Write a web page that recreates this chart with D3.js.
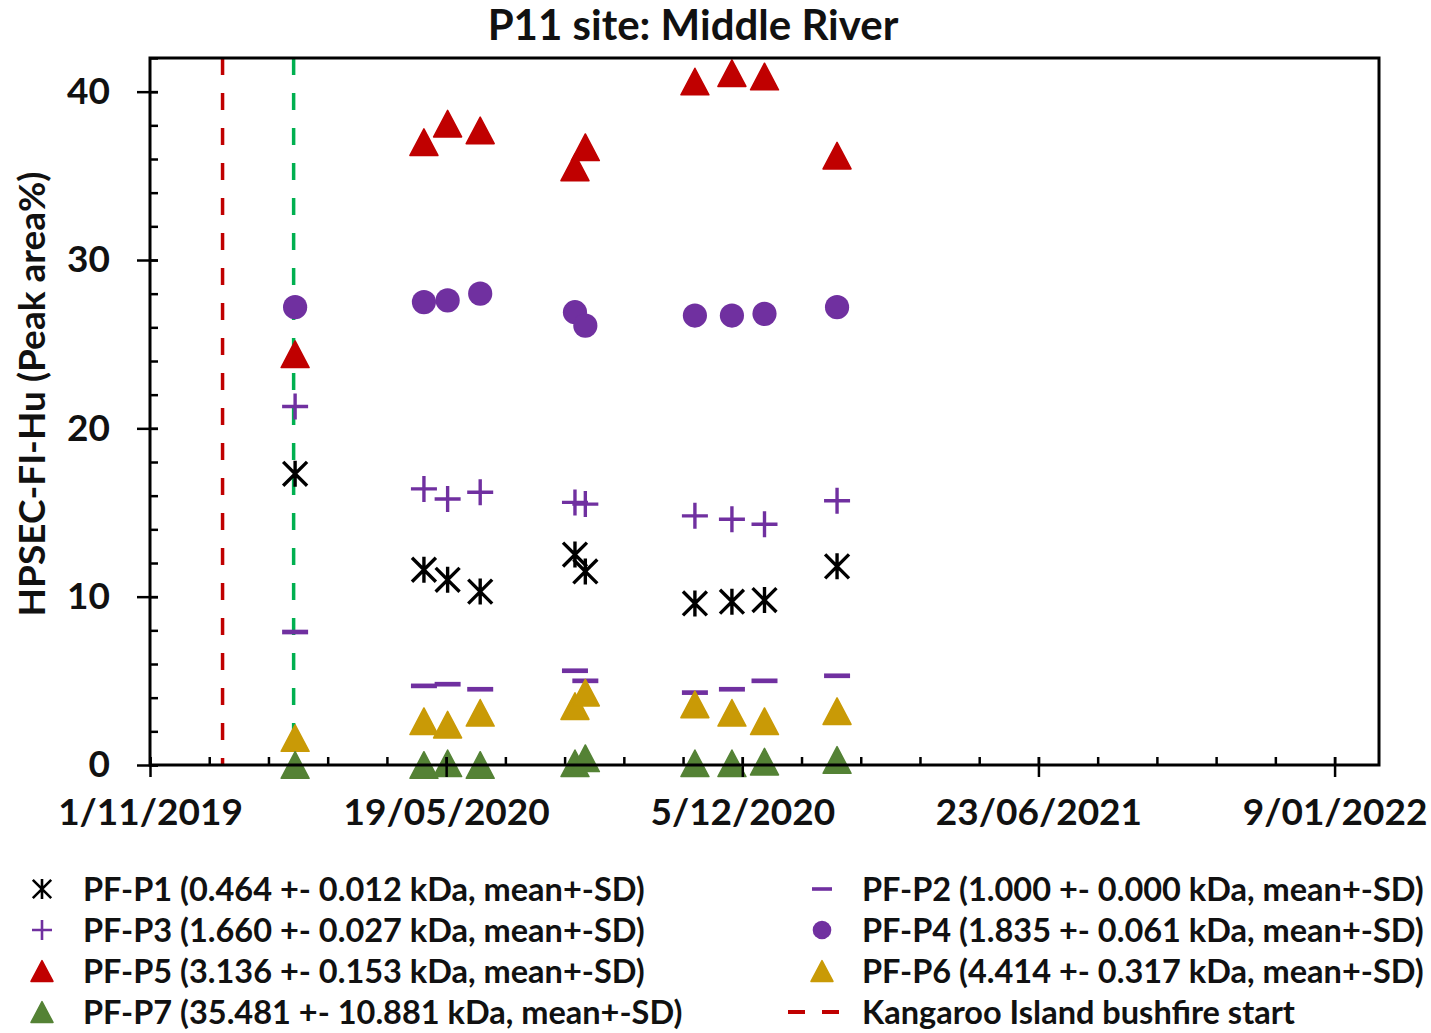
<!DOCTYPE html>
<html>
<head>
<meta charset="utf-8">
<script src="https://cdn.jsdelivr.net/npm/d3@7"></script>
<style>
  html, body { margin: 0; padding: 0; background: #fff; }
  svg text { font-family: Lato, "Noto Sans", sans-serif; font-weight: 700; fill: #111; }
</style>
</head>
<body>
<div id="chart"></div>
<script>
// P11 site: Middle River – HPSEC-Fl-Hu peak areas over time

const SAMPLE_DATES = [
  "2020-02-07", "2020-05-04", "2020-05-20", "2020-06-11", "2020-08-14",
  "2020-08-21", "2020-11-03", "2020-11-28", "2020-12-20", "2021-02-07",
];
const P1 = [17.3, 11.6, 11.0, 10.3, 12.5, 11.5, 9.6, 9.7, 9.8, 11.8];
const P2 = [7.9, 4.7, 4.8, 4.5, 5.6, 5.0, 4.3, 4.5, 5.0, 5.3];
const P3 = [21.3, 16.4, 15.8, 16.2, 15.6, 15.5, 14.8, 14.6, 14.3, 15.7];
const P4 = [27.2, 27.5, 27.6, 28.0, 26.9, 26.1, 26.7, 26.7, 26.8, 27.2];
const P5 = [24.4, 37.0, 38.1, 37.7, 35.5, 36.7, 40.6, 41.1, 40.9, 36.2];
const P6 = [1.6, 2.6, 2.4, 3.1, 3.5, 4.3, 3.6, 3.1, 2.6, 3.2];
const P7 = [0.0, 0.0, 0.1, 0.0, 0.1, 0.4, 0.1, 0.1, 0.2, 0.3];

const BUSHFIRE_DATE = "2019-12-20";
const SAMPLING_START = "2020-02-06";

const X_START = "2019-11-01";
const X_END = "2022-02-08";
const X_MAJOR_DAYS = [0, 200, 400, 600, 800];
const X_MINOR_STEP = 40;
const Y_MAX = 42;
const Y_MAJOR = [0, 10, 20, 30, 40];
const Y_MINOR_STEP = 2;

const SERIES = [
  { key: "P1", values: P1, shape: "star",   color: "#000000", label: "PF-P1 (0.464 +- 0.012 kDa, mean+-SD)" },
  { key: "P2", values: P2, shape: "dash",   color: "#7030A0", label: "PF-P2 (1.000 +- 0.000 kDa, mean+-SD)" },
  { key: "P3", values: P3, shape: "plus",   color: "#7030A0", label: "PF-P3 (1.660 +- 0.027 kDa, mean+-SD)" },
  { key: "P4", values: P4, shape: "circle", color: "#7030A0", label: "PF-P4 (1.835 +- 0.061 kDa, mean+-SD)" },
  { key: "P5", values: P5, shape: "tri",    color: "#C00000", label: "PF-P5 (3.136 +- 0.153 kDa, mean+-SD)" },
  { key: "P6", values: P6, shape: "tri",    color: "#C99A06", label: "PF-P6 (4.414 +- 0.317 kDa, mean+-SD)" },
  { key: "P7", values: P7, shape: "tri",    color: "#548235", label: "PF-P7 (35.481 +- 10.881 kDa, mean+-SD)" },
];

const parse = d3.utcParse("%Y-%m-%d");
const DAY = 86400000;

/* ── Layout ── */
const totalW = 1431, totalH = 1033;
const plot = { left: 150, right: 1379, top: 58, bottom: 765 };

const svg = d3.select("#chart").append("svg")
  .attr("width", totalW).attr("height", totalH);

/* ── Scales ── */
const x0 = parse(X_START);
const x = d3.scaleUtc().domain([x0, parse(X_END)]).range([plot.left, plot.right]);
const y = d3.scaleLinear().domain([0, Y_MAX]).range([plot.bottom, plot.top]);

/* ── Marker shapes ── */
function marker(sel, shape, color, s) {
  // s = nominal marker size in px
  const h = s / 2;
  if (shape === "tri") {
    sel.append("path")
      .attr("d", `M0,${-h * 0.95}L${h},${h * 0.95}L${-h},${h * 0.95}Z`)
      .attr("fill", color).attr("stroke", color)
      .attr("stroke-width", 1.5).attr("stroke-linejoin", "round");
  } else if (shape === "circle") {
    sel.append("circle").attr("r", h * 0.93).attr("fill", color);
  } else if (shape === "plus") {
    sel.append("path")
      .attr("d", `M${-h},0H${h}M0,${-h}V${h}`)
      .attr("stroke", color).attr("stroke-width", s * 0.13).attr("fill", "none");
  } else if (shape === "dash") {
    sel.append("path")
      .attr("d", `M${-h},0H${h}`)
      .attr("stroke", color).attr("stroke-width", s * 0.18).attr("fill", "none");
  } else if (shape === "star") {
    const d = h * 0.92;
    sel.append("path")
      .attr("d", `M0,${-h}V${h}M${-d},${-d}L${d},${d}M${-d},${d}L${d},${-d}`)
      .attr("stroke", color).attr("stroke-width", s * 0.13).attr("fill", "none");
  }
}

/* ── Vertical event lines ── */
svg.append("line")
  .attr("x1", x(parse(BUSHFIRE_DATE))).attr("x2", x(parse(BUSHFIRE_DATE)))
  .attr("y1", plot.top).attr("y2", plot.bottom)
  .attr("stroke", "#C00000").attr("stroke-width", 3.5).attr("stroke-dasharray", "17 18");

svg.append("line")
  .attr("x1", x(parse(SAMPLING_START))).attr("x2", x(parse(SAMPLING_START)))
  .attr("y1", plot.top).attr("y2", plot.bottom)
  .attr("stroke", "#00B050").attr("stroke-width", 3.5).attr("stroke-dasharray", "17 18");

/* ── Points ── */
SERIES.forEach(s => {
  const g = svg.append("g").attr("class", `series-${s.key}`);
  s.values.forEach((v, i) => {
    const m = g.append("g")
      .attr("transform", `translate(${x(parse(SAMPLE_DATES[i]))},${y(v)})`);
    marker(m, s.shape, s.color, s.shape === "tri" ? 28 : 26);
  });
});

/* ── Axes ── */
const majorX = X_MAJOR_DAYS.map(d => new Date(+x0 + d * DAY));
const minorX = d3.range(0, +parse(X_END) - +x0, X_MINOR_STEP * DAY).map(ms => new Date(+x0 + ms));
const fmt = d3.utcFormat("%-d/%m/%Y");

svg.append("g").attr("transform", `translate(0,${plot.bottom})`)
  .call(d3.axisTop(x).tickValues(minorX).tickSize(8).tickFormat(""))
  .call(ax => { ax.select(".domain").remove(); ax.selectAll("line").attr("stroke", "#000").attr("stroke-width", 2.5); });

svg.append("g").attr("transform", `translate(0,${plot.bottom})`)
  .call(d3.axisBottom(x).tickValues(majorX).tickSize(12).tickPadding(22).tickFormat(fmt))
  .call(ax => {
    ax.select(".domain").remove();
    ax.selectAll("line").attr("y1", -8).attr("stroke", "#000").attr("stroke-width", 2.5);
    ax.selectAll("text").attr("font-size", 37).attr("fill", "#111")
      .attr("font-family", "Lato").attr("font-weight", 700);
  });

svg.append("g").attr("transform", `translate(${plot.left},0)`)
  .call(d3.axisRight(y).tickValues(d3.range(0, Y_MAX + 1, Y_MINOR_STEP)).tickSize(8).tickFormat(""))
  .call(ax => { ax.select(".domain").remove(); ax.selectAll("line").attr("stroke", "#000").attr("stroke-width", 2.5); });

svg.append("g").attr("transform", `translate(${plot.left},0)`)
  .call(d3.axisLeft(y).tickValues(Y_MAJOR).tickSize(13).tickPadding(27).tickFormat(d3.format("d")))
  .call(ax => {
    ax.select(".domain").remove();
    ax.selectAll("line").attr("x1", 8).attr("stroke", "#000").attr("stroke-width", 2.5);
    ax.selectAll("text").attr("font-size", 37).attr("fill", "#111")
      .attr("font-family", "Lato").attr("font-weight", 700);
  });

/* ── Plot frame ── */
svg.append("rect")
  .attr("x", plot.left).attr("y", plot.top)
  .attr("width", plot.right - plot.left).attr("height", plot.bottom - plot.top)
  .attr("fill", "none").attr("stroke", "#000").attr("stroke-width", 3);

/* ── Titles ── */
svg.append("text").attr("x", 693).attr("y", 40)
  .attr("text-anchor", "middle").attr("font-size", 42)
  .text("P11 site: Middle River");

svg.append("text").attr("transform", "rotate(-90)")
  .attr("x", -394).attr("y", 45)
  .attr("text-anchor", "middle").attr("font-size", 37)
  .text("HPSEC-FI-Hu (Peak area%)");

/* ── Legend ── */
const LEGEND_ROWS = [889, 930, 971, 1012];
const LEGEND_FONT = 32.5;
const legendItems = [
  { col: 0, row: 0, s: SERIES[0] }, { col: 1, row: 0, s: SERIES[1] },
  { col: 0, row: 1, s: SERIES[2] }, { col: 1, row: 1, s: SERIES[3] },
  { col: 0, row: 2, s: SERIES[4] }, { col: 1, row: 2, s: SERIES[5] },
  { col: 0, row: 3, s: SERIES[6] },
];
const colX = [{ mark: 42, text: 83 }, { mark: 822, text: 862 }];

legendItems.forEach(it => {
  const cy = LEGEND_ROWS[it.row];
  const m = svg.append("g").attr("transform", `translate(${colX[it.col].mark},${cy})`);
  marker(m, it.s.shape, it.s.color, it.s.shape === "tri" ? 22 : 20);
  svg.append("text").attr("x", colX[it.col].text).attr("y", cy).attr("dy", "0.36em")
    .attr("font-size", LEGEND_FONT).text(it.s.label);
});

// bushfire line entry
const fy = LEGEND_ROWS[3];
svg.append("line").attr("x1", 788).attr("x2", 845).attr("y1", fy).attr("y2", fy)
  .attr("stroke", "#C00000").attr("stroke-width", 4).attr("stroke-dasharray", "17 17");
svg.append("text").attr("x", colX[1].text).attr("y", fy).attr("dy", "0.36em")
  .attr("font-size", LEGEND_FONT).text("Kangaroo Island bushfire start");
</script>
</body>
</html>
